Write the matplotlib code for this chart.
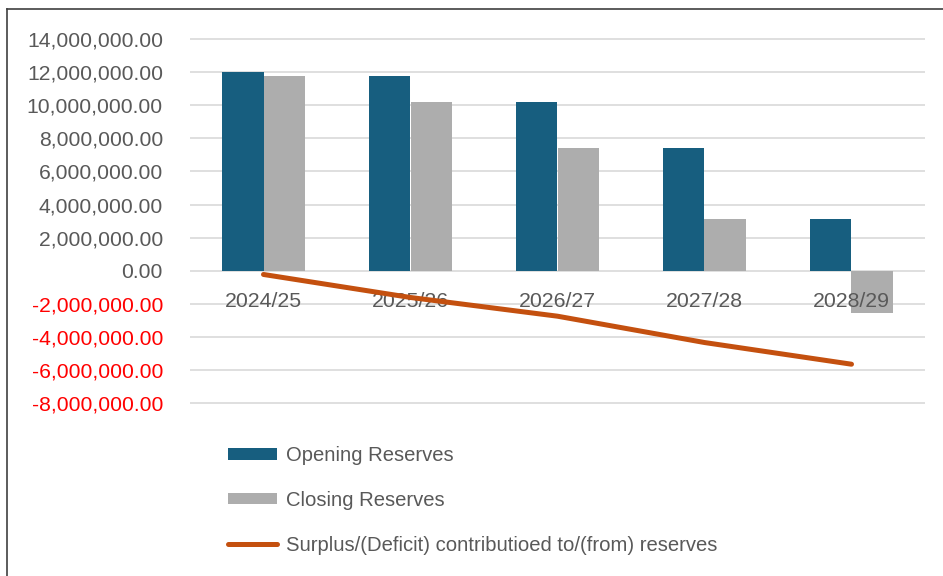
import matplotlib
matplotlib.use("Agg")
import matplotlib.pyplot as plt
import numpy as np
from matplotlib.lines import Line2D
from matplotlib.ticker import FuncFormatter, MultipleLocator

plt.rcParams['font.family'] = ['Liberation Sans', 'DejaVu Sans']

categories = ["2024/25", "2025/26", "2026/27", "2027/28", "2028/29"]
opening = [12000000, 11780000, 10170000, 7430000, 3100000]
closing = [11780000, 10170000, 7430000, 3100000, -2540000]
surplus = [-220000, -1610000, -2740000, -4330000, -5640000]
labels = ["Opening Reserves", "Closing Reserves",
          "Surplus/(Deficit) contributioed to/(from) reserves"]

c_open = "#175E7F"
c_close = "#ADADAD"
c_line = "#C4500F"
grid_c = "#D9D9D9"
txt_c = "#595959"

W, H = 943, 576
fig = plt.figure(figsize=(W / 100, H / 100), dpi=100)
fig.patch.set_facecolor("white")

top_px, bot_px = 37.35, 404.95
left_px, right_px = 190, 925
ax = fig.add_axes([left_px / W, 1 - bot_px / H, (right_px - left_px) / W, (bot_px - top_px) / H])

x = np.arange(len(categories))
w = 0.284
b1 = ax.bar(x - w / 2, opening, w, color=c_open, zorder=2)
b2 = ax.bar(x + w / 2, closing, w, color=c_close, zorder=2)
ln, = ax.plot(x, surplus, color=c_line, lw=3.6, solid_capstyle="round", zorder=3)

ax.set_xlim(-0.5, len(categories) - 0.5)
ax.set_ylim(-8.1e6, 14.1e6)
ax.yaxis.set_major_locator(MultipleLocator(2e6))
ax.yaxis.set_major_formatter(FuncFormatter(lambda v, p: f"{v:,.2f}"))
ax.grid(axis="y", color=grid_c, lw=1.2, zorder=0)
ax.set_axisbelow(True)
ax.xaxis.set_zorder(2.5)
for s in ax.spines.values():
    s.set_visible(False)
ax.spines["bottom"].set_position(("data", 0))
ax.set_xticks(x)
ax.set_xticklabels(categories)
ax.tick_params(axis="x", length=0, pad=15.5, labelsize=15.3, colors=txt_c)
ax.tick_params(axis="y", length=0, pad=19.5, labelsize=15.2)
fig.canvas.draw()
for t in ax.get_yticklabels():
    v = t.get_position()[1]
    t.set_color("#FF0000" if v < 0 else txt_c)

fig.legend([b1, b2, ln], labels, loc="upper left",
           bbox_to_anchor=(228 / W, 1 - 446 / H), frameon=False,
           fontsize=14.6, labelcolor=txt_c, borderpad=0, borderaxespad=0,
           handlelength=2.4, handleheight=0.5, handletextpad=0.45,
           labelspacing=1.27)

# chart frame
fig.add_artist(Line2D([7.5 / W, 7.5 / W], [0, 1 - 8.5 / H], transform=fig.transFigure,
                      color="#404040", lw=1.2))
fig.add_artist(Line2D([7.5 / W, 1], [1 - 8.5 / H, 1 - 8.5 / H], transform=fig.transFigure,
                      color="#404040", lw=1.2))

fig.savefig("out.png", dpi=100)
